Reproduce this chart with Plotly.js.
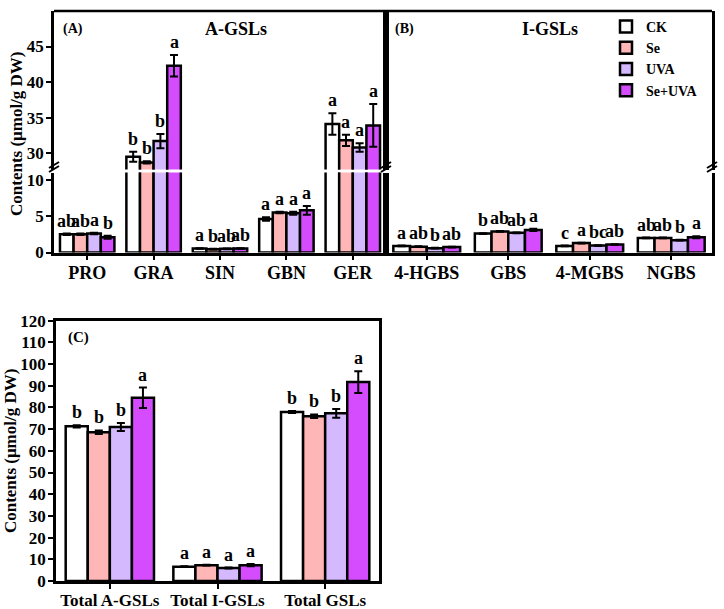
<!DOCTYPE html>
<html>
<head>
<meta charset="utf-8">
<script src="https://cdn.plot.ly/plotly-3.0.1.min.js"></script>
<style>
  body { margin: 0; background: white; }
  #plot { width: 724px; height: 609px; }
</style>
</head>
<body>
<div id="plot"></div>
<script>
// treatments
var treatments = ["CK", "Se", "UVA", "Se+UVA"];
var colors = ["#ffffff", "#ffb6b6", "#d5b9ff", "#d54cff"];

// (A) aliphatic GSLs
var catsA = ["PRO", "GRA", "SIN", "GBN", "GER"];
var valA = [
    [2.5, 29.5, 0.55, 4.6, 34.1],   // CK
    [2.5, 28.7, 0.45, 5.5, 31.8],   // Se
    [2.6, 31.7, 0.5, 5.4, 30.8],    // UVA
    [2.1, 42.3, 0.55, 5.8, 33.9]    // Se+UVA
];
var errA = [
    [0.1, 0.7, 0.05, 0.25, 1.5],
    [0.1, 0.15, 0.05, 0.1, 0.8],
    [0.1, 1.0, 0.05, 0.2, 0.6],
    [0.2, 1.5, 0.05, 0.6, 3.0]
];
var letA = [
    ["ab", "b", "a", "a", "a"],
    ["ab", "b", "b", "a", "a"],
    ["a", "b", "ab", "a", "a"],
    ["b", "a", "ab", "a", "a"]
];

// (B) indole GSLs
var catsB = ["4-HGBS", "GBS", "4-MGBS", "NGBS"];
var valB = [
    [0.9, 2.6, 0.9, 2.0],
    [0.8, 2.9, 1.3, 2.0],
    [0.6, 2.7, 0.95, 1.7],
    [0.75, 3.1, 1.1, 2.1]
];
var errB = [
    [0.05, 0.05, 0.05, 0.05],
    [0.05, 0.05, 0.05, 0.05],
    [0.05, 0.05, 0.05, 0.05],
    [0.05, 0.15, 0.05, 0.15]
];
var letB = [
    ["a", "b", "c", "ab"],
    ["ab", "ab", "a", "ab"],
    ["b", "ab", "bc", "b"],
    ["ab", "a", "ab", "a"]
];

// (C) totals
var catsC = ["Total A-GSLs", "Total I-GSLs", "Total GSLs"];
var valC = [
    [71.3, 6.6, 77.9],
    [68.6, 7.3, 76.0],
    [71.0, 6.0, 77.3],
    [84.5, 7.3, 91.7]
];
var errC = [
    [0.5, 0.2, 0.5],
    [0.8, 0.2, 0.8],
    [1.8, 0.2, 2.0],
    [4.7, 0.5, 5.0]
];
var letC = [
    ["b", "a", "b"],
    ["b", "a", "b"],
    ["b", "a", "b"],
    ["a", "a", "a"]
];

var LOW_MAX = 11;
var BAR_GAP = 0.18;
var FONT = "Liberation Serif";

// pixel -> paper helpers (plot area 54..712 x 11..581)
function px(p) { return (p - 54) / 658; }
function py(p) { return (581 - p) / 570; }

var traces = [];
var annotations = [];

function addGroup(cats, vals, errs, lets, xa, ya, yaUp, legend) {
    var w = (1 - BAR_GAP) / 4;
    for (var i = 0; i < 4; i++) {
        var base = {
            x: cats,
            y: vals[i],
            name: treatments[i],
            type: "bar",
            marker: { color: colors[i], line: { color: "black", width: 2.5 } },
            error_y: { type: "data", array: errs[i], color: "black", thickness: 2, width: 4 },
            xaxis: xa,
            yaxis: ya,
            showlegend: legend
        };
        traces.push(base);
        if (yaUp) {
            var up = Object.assign({}, base, { yaxis: yaUp, showlegend: false });
            traces.push(up);
        }
        // significance letters
        for (var j = 0; j < cats.length; j++) {
            var top = vals[i][j] + errs[i][j];
            var yref = ya;
            if (yaUp && vals[i][j] > LOW_MAX) yref = yaUp;
            annotations.push({
                x: j - (1 - BAR_GAP) / 2 + w * (i + 0.5),
                y: top,
                xref: xa,
                yref: yref,
                text: lets[i][j],
                showarrow: false,
                xanchor: "center",
                yanchor: "bottom",
                yshift: 1,
                font: { family: FONT, size: 18, weight: "bold", color: "black" }
            });
        }
    }
}

addGroup(catsA, valA, errA, letA, "x", "y", "y2", true);
addGroup(catsB, valB, errB, letB, "x2", "y3", "y4", false);
addGroup(catsC, valC, errC, letC, "x3", "y5", null, false);

var tickFont = { family: FONT, size: 17, weight: "bold", color: "black" };
var catFont = { family: FONT, size: 18, weight: "bold", color: "black" };

var lowDom = [py(252.5), py(172.5)];
var upDom = [py(169.5), 1];
var splitA = px(386);

function yLine(extra) {
    return Object.assign({
        showline: true, linecolor: "black", linewidth: 2.5, mirror: true,
        showgrid: false, zeroline: false, ticks: "outside", ticklen: 5, tickwidth: 2,
        tickcolor: "black", tickfont: tickFont, ticklabelstandoff: -1
    }, extra);
}

function xLine(extra) {
    return Object.assign({
        type: "category", showline: true, linecolor: "black", linewidth: 2.5,
        ticks: "outside", ticklen: 5, tickwidth: 2, tickcolor: "black",
        tickfont: catFont, ticklabelstandoff: -3
    }, extra);
}

function label(xp, yp, text, size, extra) {
    return Object.assign({
        xref: "paper", yref: "paper", x: px(xp), y: py(yp), text: text,
        xanchor: "center", yanchor: "middle", showarrow: false,
        font: { family: FONT, size: size, weight: "bold", color: "black" }
    }, extra || {});
}

var layout = {
    width: 724,
    height: 609,
    margin: { l: 54, r: 12, t: 11, b: 28 },
    paper_bgcolor: "white",
    plot_bgcolor: "rgba(0,0,0,0)",
    font: { family: FONT, weight: "bold", color: "black" },
    barmode: "group",
    bargap: BAR_GAP,
    bargroupgap: 0,
    xaxis: xLine({ domain: [0, splitA], anchor: "y" }),
    xaxis2: xLine({ domain: [splitA, 1], anchor: "y3" }),
    xaxis3: xLine({
        domain: [px(56), px(379)], anchor: "y5", mirror: true,
        tickfont: { family: FONT, size: 17, weight: "bold", color: "black" }
    }),
    yaxis: yLine({ domain: lowDom, anchor: "x", range: [0, LOW_MAX], tickvals: [0, 5, 10] }),
    yaxis2: yLine({ domain: upDom, anchor: "x", range: [27.7, 50], tickvals: [30, 35, 40, 45] }),
    yaxis3: yLine({ domain: lowDom, anchor: "x2", matches: "y", ticks: "", showticklabels: false }),
    yaxis4: yLine({ domain: upDom, anchor: "x2", matches: "y2", ticks: "", showticklabels: false }),
    yaxis5: yLine({
        domain: [0, py(320.7)], anchor: "x3", range: [0, 120], dtick: 10,
        title: { text: "Contents (μmol/g DW)", standoff: 0,
                 font: { family: FONT, size: 17, weight: "bold", color: "black" } }
    }),
    legend: {
        x: px(606), y: py(11), xanchor: "left", yanchor: "top",
        bgcolor: "rgba(0,0,0,0)", tracegroupgap: 0, itemwidth: 30,
        font: { family: FONT, size: 14, weight: "bold", color: "black" }
    },
    shapes: [
        // top border of panels A and B
        { type: "line", xref: "paper", yref: "paper", x0: 0, x1: 1, y0: 1, y1: 1,
          line: { color: "black", width: 2.5 } }
    ],
    annotations: annotations.concat([
        label(73, 29, "(A)", 14),
        label(236, 29, "A-GSLs", 18),
        label(404, 29, "(B)", 14),
        label(550, 29, "I-GSLs", 18),
        label(78, 337, "(C)", 15),
        label(16, 134, "Contents (μmol/g DW)", 17, { textangle: -90 })
    ])
};

// axis break marks "//" on the three vertical lines
[54, 386, 712].forEach(function (xp) {
    [0, 4].forEach(function (d) {
        layout.shapes.push({
            type: "line", xref: "paper", yref: "paper",
            x0: px(xp - 5), y0: py(172 - d), x1: px(xp + 5), y1: py(166 - d),
            line: { color: "black", width: 2 }
        });
    });
});

Plotly.newPlot("plot", traces, layout, { displayModeBar: false });
</script>
</body>
</html>
